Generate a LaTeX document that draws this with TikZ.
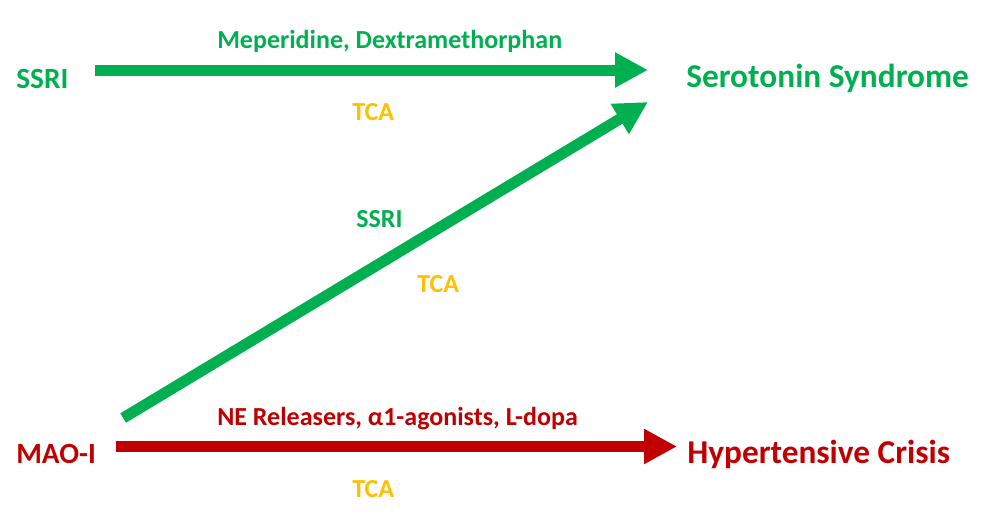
\documentclass[tikz,border=0pt]{standalone}
\usepackage{fontspec}
\setmainfont{Carlito}
\usepackage{xcolor}
\usetikzlibrary{arrows.meta, positioning}
\definecolor{sgreen}{HTML}{00B050}
\definecolor{hred}{HTML}{C00000}
\definecolor{tcayel}{HTML}{FFC000}

\begin{document}
\begin{tikzpicture}[
  x=0.75pt, y=-0.75pt,
  arrow/.style={-{Triangle[length=24.75pt, width=24.75pt]}, line width=8.25pt},
  drug/.style={inner sep=0pt, anchor=base west, font=\fontsize{22}{26}\selectfont\bfseries},
  effect/.style={inner sep=0pt, anchor=base west, font=\fontsize{25}{29}\selectfont\bfseries},
  lbl/.style={inner sep=0pt, anchor=base west, font=\fontsize{19.5}{23}\selectfont\bfseries}
]
\useasboundingbox (0,0) rectangle (987,521);
\node[drug, text=sgreen] (ssri) at (16,88) {SSRI};
\node[effect, text=sgreen] (sero) at (686,87) {Serotonin Syndrome};
\node[drug, text=hred] (mao) at (16,463) {MAO-I};
\node[effect, text=hred] (hyper) at (687,463) {Hypertensive Crisis};
\node[lbl, text=sgreen] (meper) at (217,48) {Meperidine, Dextramethorphan};
\node[lbl, text=tcayel] (tcatop) at (352,120) {TCA};
\node[lbl, text=sgreen] (ssrimid) at (356,227) {SSRI};
\node[lbl, text=tcayel] (tcamid) at (417,292) {TCA};
\node[lbl, text=hred] (nerel) at (217,425) {NE Releasers, α1-agonists, L-dopa};
\node[lbl, text=tcayel] (tcabot) at (352,497) {TCA};
\draw[arrow, sgreen] ([xshift=19.5pt, yshift=13.5pt]ssri.base east) -- ([xshift=-28.5pt, yshift=12.75pt]sero.base west);
\draw[arrow, sgreen] ([xshift=20.25pt, yshift=33.75pt]mao.base east) -- ([xshift=-28.5pt, yshift=-11.25pt]sero.base west);
\draw[arrow, hred] ([xshift=15pt, yshift=12.375pt]mao.base east) -- ([xshift=-7.5pt, yshift=12.375pt]hyper.base west);
\end{tikzpicture}
\end{document}
